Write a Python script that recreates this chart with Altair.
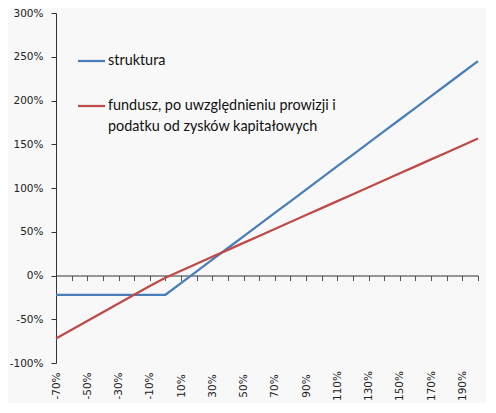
import altair as alt
import pandas as pd

# category axis: market return (%)
x_vals = [-70, -60, -50, -40, -30, -20, -10, 0, 10, 20, 30, 40, 50, 60,
          70, 80, 90, 100, 110, 120, 130, 140, 150, 160, 170, 180, 190, 200]
x_label_values = [-70, -50, -30, -10, 10, 30, 50, 70, 90, 110, 130, 150, 170, 190]
y_ticks = [-100, -50, 0, 50, 100, 150, 200, 250, 300]

struktura = [-22, -22, -22, -22, -22, -22, -22, -22, -8.6, 4.7, 18.1, 31.4,
             44.8, 58.1, 71.5, 84.8, 98.2, 111.5, 124.9, 138.2, 151.6, 164.9,
             178.3, 191.6, 205.0, 218.3, 231.7, 245.0]
fundusz = [-72, -62, -52, -42, -32, -22, -12, -2.5, 5.5, 13.4, 21.4, 29.3,
           37.3, 45.2, 53.2, 61.1, 69.1, 77.0, 85.0, 92.9, 100.9, 108.8,
           116.8, 124.7, 132.7, 140.6, 148.6, 156.5]

series_names = ["struktura",
                "fundusz, po uwzględnieniu prowizji i podatku od zysków kapitałowych"]
legend_lines = ["fundusz, po uwzględnieniu prowizji i",
                "podatku od zysków kapitałowych"]
colors = ["#4a7ebb", "#be4b48"]

df = pd.DataFrame({
    "x": x_vals + x_vals,
    "y": struktura + fundusz,
    "series": [series_names[0]] * len(x_vals) + [series_names[1]] * len(x_vals),
    "order": [0] * len(x_vals) + [1] * len(x_vals),
})

W = 422
H = 350
ydom = [-100, 300]
zero_from_bottom = H * (0 - ydom[0]) / (ydom[1] - ydom[0])

AXFONT = "DejaVu Sans"
AXSIZE = 10.5
AXCOL = "#222222"

label_list = ",".join(str(v) for v in x_label_values)

lines = alt.Chart(df).mark_line(strokeWidth=2.25).encode(
    x=alt.X("x:Q",
            scale=alt.Scale(domain=[x_vals[0], x_vals[-1]], nice=False, zero=False),
            axis=alt.Axis(values=x_vals,
                          labelExpr=f"indexof([{label_list}], datum.value) >= 0 ? datum.value + '%' : ''",
                          offset=-zero_from_bottom,
                          tickSize=5, labelPadding=105,
                          labelAngle=-90, labelAlign="center", labelBaseline="middle",
                          grid=False, title=None,
                          domainColor="#333333", tickColor="#555555",
                          labelFont=AXFONT, labelFontSize=AXSIZE, labelColor=AXCOL,
                          labelOverlap=False)),
    y=alt.Y("y:Q",
            scale=alt.Scale(domain=ydom, nice=False, zero=False),
            axis=alt.Axis(values=y_ticks, labelExpr="datum.value + '%'",
                          tickSize=5, labelPadding=8, grid=False, title=None,
                          domainColor="#333333", tickColor="#333333",
                          labelFont=AXFONT, labelFontSize=AXSIZE, labelColor=AXCOL)),
    color=alt.Color("series:N", scale=alt.Scale(domain=series_names, range=colors), legend=None),
    detail="order:O",
)

LFONT = "Lato"
LSIZE = 14.4
LX0, LX1, TX = 22, 49, 52
leg = []
leg.append(alt.Chart(pd.DataFrame({"s": [series_names[0]]})).mark_rule(
    color=colors[0], strokeWidth=2.25).encode(
    x=alt.value(LX0), x2=alt.value(LX1), y=alt.value(48)))
leg.append(alt.Chart(pd.DataFrame({"t": [series_names[0]]})).mark_text(
    align="left", baseline="middle", font=LFONT, fontSize=LSIZE, color="#111111").encode(
    text="t:N", x=alt.value(TX), y=alt.value(48)))
leg.append(alt.Chart(pd.DataFrame({"s": [series_names[1]]})).mark_rule(
    color=colors[1], strokeWidth=2.25).encode(
    x=alt.value(LX0), x2=alt.value(LX1), y=alt.value(93)))
leg.append(alt.Chart(pd.DataFrame({"t": [legend_lines[0]]})).mark_text(
    align="left", baseline="middle", font=LFONT, fontSize=LSIZE, color="#111111").encode(
    text="t:N", x=alt.value(TX), y=alt.value(93)))
leg.append(alt.Chart(pd.DataFrame({"t": [legend_lines[1]]})).mark_text(
    align="left", baseline="middle", font=LFONT, fontSize=LSIZE, color="#111111").encode(
    text="t:N", x=alt.value(TX), y=alt.value(114)))

chart = alt.layer(lines, *leg).properties(
    width=W, height=H,
    autosize=alt.AutoSizeParams(type="none"),
    padding={"left": 48, "top": 5, "right": 8, "bottom": 40},
    background="#f8f8f8",
).configure_view(stroke=None)

chart.save("out.html", embed_options={"renderer": "svg", "actions": False})
